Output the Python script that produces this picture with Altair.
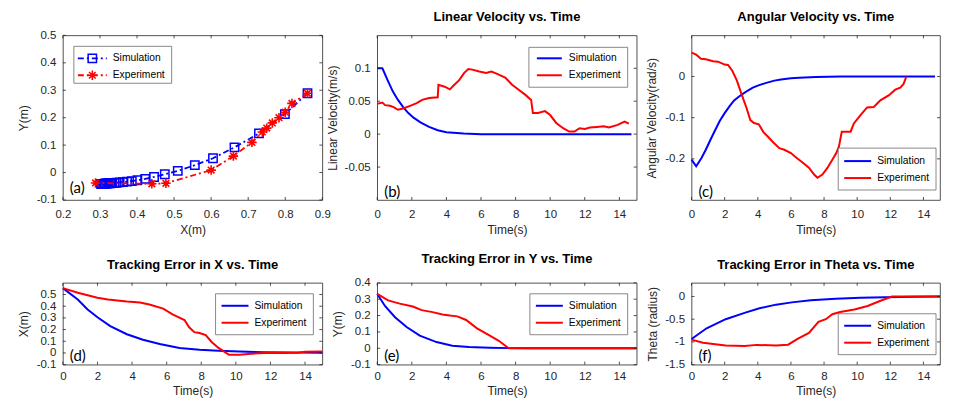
import altair as alt
import pandas as pd

BLUE = "#0000FF"
RED = "#FF0000"
INK = "#262626"
FONT = "Liberation Sans"
TAGFONT = "Lato"

SERIES = ["Simulation", "Experiment"]
TAGS = ["(a)", "(b)", "(c)", "(d)", "(e)", "(f)"]
TITLES = ["", "Linear Velocity vs. Time", "Angular Velocity vs. Time",
          "Tracking Error in X vs. Time", "Tracking Error in Y vs. Time",
          "Tracking Error in Theta vs. Time"]
XTITLES = ["X(m)", "Time(s)", "Time(s)", "Time(s)", "Time(s)", "Time(s)"]
YTITLES = ["Y(m)", "Linear Velocity(m/s)", "Angular Velocity(rad/s)",
           "X(m)", "Y(m)", "Theta (radius)"]

# tick values
A_XTICKS = [0.2, 0.3, 0.4, 0.5, 0.6, 0.7, 0.8, 0.9]
A_YTICKS = [-0.1, 0, 0.1, 0.2, 0.3, 0.4, 0.5]
T_TICKS = [0, 2, 4, 6, 8, 10, 12, 14]
B_YTICKS = [-0.05, 0, 0.05, 0.1]
C_YTICKS = [-0.2, -0.1, 0]
D_YTICKS = [-0.1, 0, 0.1, 0.2, 0.3, 0.4, 0.5]
E_YTICKS = [-0.1, 0, 0.1, 0.2, 0.3, 0.4]
F_YTICKS = [-1.5, -1, -0.5, 0]

# (a) trajectory
SIM_A_X = [0.860, 0.799, 0.729, 0.663, 0.605, 0.556, 0.510, 0.475, 0.446, 0.422,
           0.401, 0.386, 0.373, 0.362, 0.353, 0.345, 0.339, 0.333, 0.328, 0.324,
           0.320, 0.317, 0.314, 0.312, 0.310, 0.308, 0.306, 0.305, 0.304, 0.303]
SIM_A_Y = [0.289, 0.213, 0.143, 0.092, 0.052, 0.027, 0.006, -0.006, -0.016, -0.023,
           -0.028, -0.031, -0.033, -0.035, -0.036, -0.037, -0.038, -0.038, -0.039, -0.039,
           -0.040, -0.040, -0.040, -0.041, -0.041, -0.041, -0.041, -0.041, -0.041, -0.041]
EXP_A_X = [0.860, 0.818, 0.800, 0.783, 0.765, 0.750, 0.738, 0.710, 0.660, 0.600,
           0.478, 0.440, 0.288]
EXP_A_Y = [0.289, 0.252, 0.220, 0.200, 0.181, 0.162, 0.148, 0.110, 0.060, 0.009,
           -0.039, -0.041, -0.038]

# (b) linear velocity
SIM_B_T = [0, 0.3, 0.6, 0.9, 1.2, 1.5, 1.8, 2.1, 2.5, 3.0, 3.5, 4.0, 5.0, 6.0, 8.0,
           10.0, 12.0, 14.7]
SIM_B_V = [0.100, 0.100, 0.082, 0.065, 0.052, 0.041, 0.032, 0.025, 0.018, 0.011,
           0.006, 0.003, 0.001, 0, 0, 0, 0, 0]
EXP_B_T = [0, 0.3, 0.46, 0.74, 0.95, 1.2, 1.5, 1.9, 2.28, 2.6, 3.0, 3.5, 3.54, 3.9,
           4.2, 4.46, 4.74, 5.03, 5.27, 5.5, 5.9, 6.3, 6.6, 6.9, 7.4, 7.8, 8.2, 8.55,
           8.9, 9.0, 9.3, 9.7, 10.0, 10.35, 10.75, 11.1, 11.4, 11.7, 12.0, 12.3, 12.7,
           13.1, 13.4, 13.9, 14.3, 14.55]
EXP_B_V = [0.046, 0.048, 0.044, 0.043, 0.041, 0.037, 0.039, 0.043, 0.047, 0.052,
           0.055, 0.056, 0.075, 0.072, 0.068, 0.075, 0.082, 0.093, 0.099, 0.098,
           0.095, 0.093, 0.095, 0.092, 0.086, 0.075, 0.067, 0.060, 0.052, 0.032,
           0.032, 0.035, 0.029, 0.017, 0.009, 0.004, 0.004, 0.009, 0.008, 0.010,
           0.011, 0.012, 0.010, 0.014, 0.019, 0.016]

# (c) angular velocity
SIM_C_T = [0, 0.28, 0.6, 0.86, 1.15, 1.43, 1.7, 2.0, 2.3, 2.57, 2.85, 3.14, 3.4, 3.7,
           4.0, 4.46, 5.0, 5.4, 6.0, 6.5, 7.5, 9, 11, 13, 14.7]
SIM_C_V = [-0.202, -0.218, -0.198, -0.178, -0.153, -0.130, -0.108, -0.089, -0.072,
           -0.058, -0.049, -0.041, -0.034, -0.027, -0.022, -0.016, -0.010, -0.007,
           -0.004, -0.003, -0.001, 0, 0, 0, 0]
EXP_C_T = [0, 0.28, 0.57, 0.86, 1.3, 1.6, 2.0, 2.2, 2.46, 2.74, 3.0, 3.3, 3.55, 3.77,
           4.06, 4.34, 4.63, 4.91, 5.3, 5.6, 6.0, 6.35, 6.74, 7.1, 7.4, 7.6, 7.9, 8.2,
           8.5, 8.74, 8.9, 9.07, 9.6, 9.8, 10.2, 10.6, 11.0, 11.4, 11.9, 12.3, 12.6,
           12.8, 12.97]
EXP_C_V = [0.058, 0.053, 0.043, 0.042, 0.037, 0.036, 0.029, 0.028, 0.014, -0.010,
           -0.041, -0.074, -0.106, -0.113, -0.116, -0.135, -0.147, -0.159, -0.174,
           -0.178, -0.186, -0.198, -0.210, -0.222, -0.238, -0.246, -0.238, -0.222,
           -0.202, -0.186, -0.170, -0.134, -0.134, -0.114, -0.094, -0.075, -0.074,
           -0.058, -0.046, -0.032, -0.027, -0.018, 0.0]

# (d) tracking error X
SIM_D_T = [0, 0.86, 1.43, 2.0, 2.74, 3.7, 4.63, 5.6, 6.74, 7.9, 9.0, 10.2, 11.6, 13.6, 15]
SIM_D_V = [0.555, 0.457, 0.372, 0.305, 0.230, 0.160, 0.113, 0.077, 0.043, 0.027,
           0.019, 0.012, 0.007, 0.003, 0.002]
EXP_D_T = [0, 0.86, 2.0, 2.6, 3.7, 4.46, 5.0, 5.8, 6.34, 7.03, 7.3, 7.6, 7.9, 8.26,
           8.6, 9.0, 9.6, 10.2, 10.9, 11.6, 12.7, 13.6, 14.0, 15.0]
EXP_D_V = [0.555, 0.515, 0.473, 0.457, 0.440, 0.431, 0.414, 0.380, 0.330, 0.282,
           0.220, 0.178, 0.170, 0.153, 0.094, 0.043, -0.016, -0.016, -0.006, 0.0,
           0.0, 0.002, 0.010, 0.012]

# (e) tracking error Y
SIM_E_T = [0, 0.46, 1.03, 1.7, 2.46, 3.43, 4.34, 5.3, 6.5, 7.6, 9, 11, 13, 15]
SIM_E_V = [0.332, 0.257, 0.190, 0.130, 0.077, 0.038, 0.016, 0.008, 0.004, 0.001,
           0, 0, 0, 0]
EXP_E_T = [0, 0.63, 1.3, 2.06, 2.57, 3.2, 3.77, 4.2, 4.63, 5.14, 5.77, 6.46, 7.03,
           7.6, 9, 11, 13, 15]
EXP_E_V = [0.332, 0.293, 0.273, 0.255, 0.233, 0.221, 0.207, 0.200, 0.195, 0.173,
           0.122, 0.080, 0.046, 0.0, 0, 0, 0, 0]

# (f) tracking error theta
SIM_F_T = [0, 0.91, 2.06, 3.2, 4.1, 5.1, 6.05, 7.2, 8.7, 10.2, 11.7, 13.5, 15]
SIM_F_V = [-0.935, -0.70, -0.50, -0.36, -0.26, -0.18, -0.13, -0.085, -0.05, -0.03,
           -0.015, -0.005, 0]
EXP_F_T = [0, 0.69, 2.06, 3.2, 3.94, 5.1, 5.83, 6.4, 7.09, 7.66, 8.11, 8.5, 8.97,
           9.83, 10.63, 11.37, 12.1, 13.5, 15]
EXP_F_V = [-0.95, -1.02, -1.08, -1.09, -1.065, -1.08, -1.06, -0.935, -0.80, -0.56,
           -0.50, -0.39, -0.34, -0.285, -0.21, -0.10, 0, 0, 0]

W = 260
W_LAST = 249
H_TOP = 165
H_BOT = 82
TICK = 3

ASTERISK = "M-1,0L1,0M0,-1L0,1M-0.7,-0.7L0.7,0.7M-0.7,0.7L0.7,-0.7"
DASHDOT = [6, 3, 2, 3]


def df_xy(xs, ys):
    return pd.DataFrame({"x": xs, "y": ys, "i": list(range(len(xs)))})


def one(val):
    return pd.DataFrame({"label": [val]})


def panel(k, sim, exp, xdom, ydom, xt, yt, h, ytitle_x, legend, traj=False):
    w = W_LAST if k % 3 == 2 else W
    xs = alt.Scale(domain=xdom, nice=False, zero=False)
    ys = alt.Scale(domain=ydom, nice=False, zero=False)
    top_row = k < 3
    xtitle_y = 30 if top_row else 26
    xlab_pad = 9 if top_row else 6
    xax = alt.Axis(values=xt, title=XTITLES[k], labelExpr="'' + datum.value",
                   grid=False, domain=False, ticks=False, labelPadding=xlab_pad,
                   labelFlush=False, titleY=xtitle_y, titleBaseline="middle")
    yax = alt.Axis(values=yt, title=YTITLES[k], labelExpr="'' + datum.value",
                   grid=False, domain=False, ticks=False, labelPadding=7,
                   titleX=ytitle_x, titleBaseline="middle")
    X = alt.X("x:Q", scale=xs, axis=xax)
    Y = alt.Y("y:Q", scale=ys, axis=yax)
    layers = []
    # data lines first (they carry the axes)
    if traj:
        layers.append(alt.Chart(sim).mark_line(color=BLUE, strokeWidth=1.8, strokeDash=DASHDOT)
                      .encode(x=X, y=Y, order="i:Q"))
        layers.append(alt.Chart(sim).mark_point(shape="square", filled=False, color=BLUE,
                                                strokeWidth=1.5, size=70, opacity=1)
                      .encode(x=X, y=Y))
        layers.append(alt.Chart(exp).mark_line(color=RED, strokeWidth=1.8, strokeDash=DASHDOT)
                      .encode(x=X, y=Y, order="i:Q"))
        layers.append(alt.Chart(exp).mark_point(shape=ASTERISK, filled=False, color=RED,
                                                strokeWidth=1.6, size=90, opacity=1)
                      .encode(x=X, y=Y))
    else:
        layers.append(alt.Chart(sim).mark_line(color=BLUE, strokeWidth=2).encode(x=X, y=Y))
        layers.append(alt.Chart(exp).mark_line(color=RED, strokeWidth=2).encode(x=X, y=Y))

    # inward ticks on all four sides
    xtd = pd.DataFrame({"x": xt})
    ytd = pd.DataFrame({"y": yt})
    rule = dict(color=INK, strokeWidth=0.8)
    layers.append(alt.Chart(xtd).mark_rule(**rule).encode(
        x=X, y=alt.value(h), y2=alt.value(h - TICK)))
    layers.append(alt.Chart(xtd).mark_rule(**rule).encode(
        x=X, y=alt.value(0), y2=alt.value(TICK)))
    layers.append(alt.Chart(ytd).mark_rule(**rule).encode(
        y=Y, x=alt.value(0), x2=alt.value(TICK)))
    layers.append(alt.Chart(ytd).mark_rule(**rule).encode(
        y=Y, x=alt.value(w), x2=alt.value(w - TICK)))

    # legend box
    bx0, by0, bx1, by1, lx0, lx1, tx, ry0, ry1 = legend
    layers.append(alt.Chart(one(0)).mark_rect(fill="white", stroke="#555555", strokeWidth=0.7).encode(
        x=alt.value(bx0), x2=alt.value(bx1), y=alt.value(by0), y2=alt.value(by1)))
    for name, col, ry, shp, sz in [(SERIES[0], BLUE, ry0, "square", 70),
                                   (SERIES[1], RED, ry1, ASTERISK, 90)]:
        lk = dict(color=col, strokeWidth=2)
        if traj:
            lk["strokeDash"] = DASHDOT
            lk["strokeWidth"] = 1.8
        layers.append(alt.Chart(one(name)).mark_rule(**lk).encode(
            x=alt.value(lx0), x2=alt.value(lx1), y=alt.value(ry)))
        if traj:
            layers.append(alt.Chart(one(name)).mark_point(
                shape=shp, filled=False, color=col, strokeWidth=1.5, size=sz, opacity=1).encode(
                x=alt.value((lx0 + lx1) / 2), y=alt.value(ry)))
        layers.append(alt.Chart(one(name)).mark_text(
            font=FONT, fontSize=10.3, align="left", baseline="middle", color="#000000").encode(
            x=alt.value(tx), y=alt.value(ry), text="label:N"))

    # panel tag
    tag_y = h - 12 if k == 0 else h - 8.5
    layers.append(alt.Chart(one(TAGS[k])).mark_text(
        font=TAGFONT, fontSize=15, align="left", baseline="middle", color="#000000").encode(
        x=alt.value(7), y=alt.value(tag_y), text="label:N"))

    ch = alt.layer(*layers)
    props = dict(width=w, height=h)
    if TITLES[k]:
        props["title"] = alt.TitleParams(TITLES[k])
    return ch.properties(**props)


pa = panel(0, df_xy(SIM_A_X, SIM_A_Y), df_xy(EXP_A_X, EXP_A_Y), [0.2, 0.9], [-0.1, 0.5],
           A_XTICKS, A_YTICKS, H_TOP, -39, (11, 11, 109, 48, 15, 44, 50, 23, 40), traj=True)
pb = panel(1, df_xy(SIM_B_T, SIM_B_V), df_xy(EXP_B_T, EXP_B_V), [0, 15], [-0.1, 0.15],
           T_TICKS, B_YTICKS, H_TOP, -45, (152, 12, 251, 52, 160, 185, 192, 23, 40))
pc = panel(2, df_xy(SIM_C_T, SIM_C_V), df_xy(EXP_C_T, EXP_C_V), [0, 15], [-0.3, 0.1],
           T_TICKS, C_YTICKS, H_TOP, -40, (147, 113, 245, 155, 153, 180, 186, 126, 143))
pd_ = panel(3, df_xy(SIM_D_T, SIM_D_V), df_xy(EXP_D_T, EXP_D_V), [0, 15], [-0.1, 0.6],
            T_TICKS, D_YTICKS, H_BOT, -39, (153, 11, 251, 52, 159, 186, 192, 23, 40))
pe = panel(4, df_xy(SIM_E_T, SIM_E_V), df_xy(EXP_E_T, EXP_E_V), [0, 15], [-0.1, 0.4],
           T_TICKS, E_YTICKS, H_BOT, -40, (153, 11, 251, 52, 159, 186, 192, 23, 40))
pf = panel(5, df_xy(SIM_F_T, SIM_F_V), df_xy(EXP_F_T, EXP_F_V), [0, 15], [-1.5, 0.3],
           T_TICKS, F_YTICKS, H_BOT, -39, (147, 31, 245, 72, 153, 180, 186, 43, 60))

chart = alt.concat(pa, pb, pc, pd_, pe, pf, columns=3,
                   spacing={"row": 83, "column": 55}, bounds="flush").properties(
    padding={"left": 9, "top": 2, "right": 0, "bottom": 0}
).configure_view(
    stroke=INK, strokeWidth=0.8
).configure_axis(
    labelFont=FONT, titleFont=FONT, labelFontSize=11.5, titleFontSize=12,
    labelColor=INK, titleColor=INK, titleFontWeight="normal"
).configure_title(
    font=FONT, fontSize=13, fontWeight="bold", color="#000000", anchor="middle",
    offset=10.5, baseline="alphabetic"
)

chart.save("out.html", embed_options={"renderer": "svg", "actions": False})
